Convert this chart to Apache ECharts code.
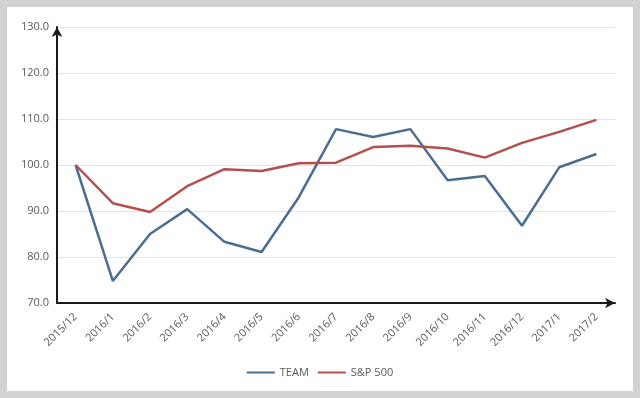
<!DOCTYPE html>
<html>
<head>
<meta charset="utf-8">
<script src="https://cdn.jsdelivr.net/npm/echarts@6/dist/echarts.min.js"></script>
<style>
    html, body {
        margin: 0;
        padding: 0;
        background: #d2d2d2;
    }
    #chart {
        position: absolute;
        left: 7px;
        top: 7px;
        width: 626px;
        height: 384px;
        background: #ffffff;
    }
</style>
</head>
<body>
<div id="chart"></div>
<script>
// 月份
var months = ['2015/12', '2016/1', '2016/2', '2016/3', '2016/4', '2016/5', '2016/6', '2016/7',
    '2016/8', '2016/9', '2016/10', '2016/11', '2016/12', '2017/1', '2017/2'];
var teamValues = [100, 74.8, 85.0, 90.4, 83.3, 81.1, 93.0, 107.8, 106.1, 107.8, 96.7, 97.6, 86.8, 99.5, 102.4];
var spValues = [100, 91.7, 89.8, 95.4, 99.1, 98.7, 100.4, 100.5, 103.9, 104.2, 103.6, 101.6, 104.8, 107.2, 109.8];
var yTicks = [70, 80, 90, 100, 110, 120, 130];

var myChart = echarts.init(document.getElementById('chart'), null, { renderer: 'canvas' });
var labelFont = 'Open Sans';
var option = {
    animation: false,
    legend: {
        data: ['TEAM', 'S&P 500'],
        bottom: 8,
        left: 'center',
        icon: 'rect',
        itemWidth: 28,
        itemHeight: 2,
        itemGap: 9,
        textStyle: { color: '#595959', fontSize: 11, fontFamily: labelFont }
    },
    grid: { // 坐标区
        left: 50,
        right: 18,
        top: 20,
        bottom: 88
    },
    xAxis: {
        type: 'category',
        data: months,
        boundaryGap: true,
        axisLine: {
            lineStyle: { color: '#1a1a1a', width: 2 },
            symbol: ['none', 'arrow'],
            symbolSize: [8, 10]
        },
        axisTick: { show: false },
        axisLabel: {
            rotate: 45,
            interval: 0,
            margin: 12,
            color: '#595959',
            fontSize: 11,
            fontFamily: labelFont
        }
    },
    yAxis: {
        type: 'value',
        min: yTicks[0],
        max: yTicks[yTicks.length - 1],
        interval: 10,
        axisLine: {
            show: true,
            lineStyle: { color: '#1a1a1a', width: 2 },
            symbol: ['none', 'arrow'],
            symbolSize: [8, 10]
        },
        axisTick: { show: false },
        splitLine: { lineStyle: { color: '#e3e3e3', width: 1 } },
        axisLabel: {
            margin: 8,
            color: '#595959',
            fontSize: 11,
            fontFamily: labelFont,
            formatter: function (v) { return v.toFixed(1); }
        }
    },
    series: [
        {
            name: 'TEAM',
            type: 'line',
            data: teamValues,
            symbol: 'none',
            color: '#4c6d92',
            lineStyle: { width: 2.5 }
        },
        {
            name: 'S&P 500',
            type: 'line',
            data: spValues,
            symbol: 'none',
            color: '#b34f4e',
            lineStyle: { width: 2.5 }
        }
    ]
};
myChart.setOption(option);
</script>
</body>
</html>
